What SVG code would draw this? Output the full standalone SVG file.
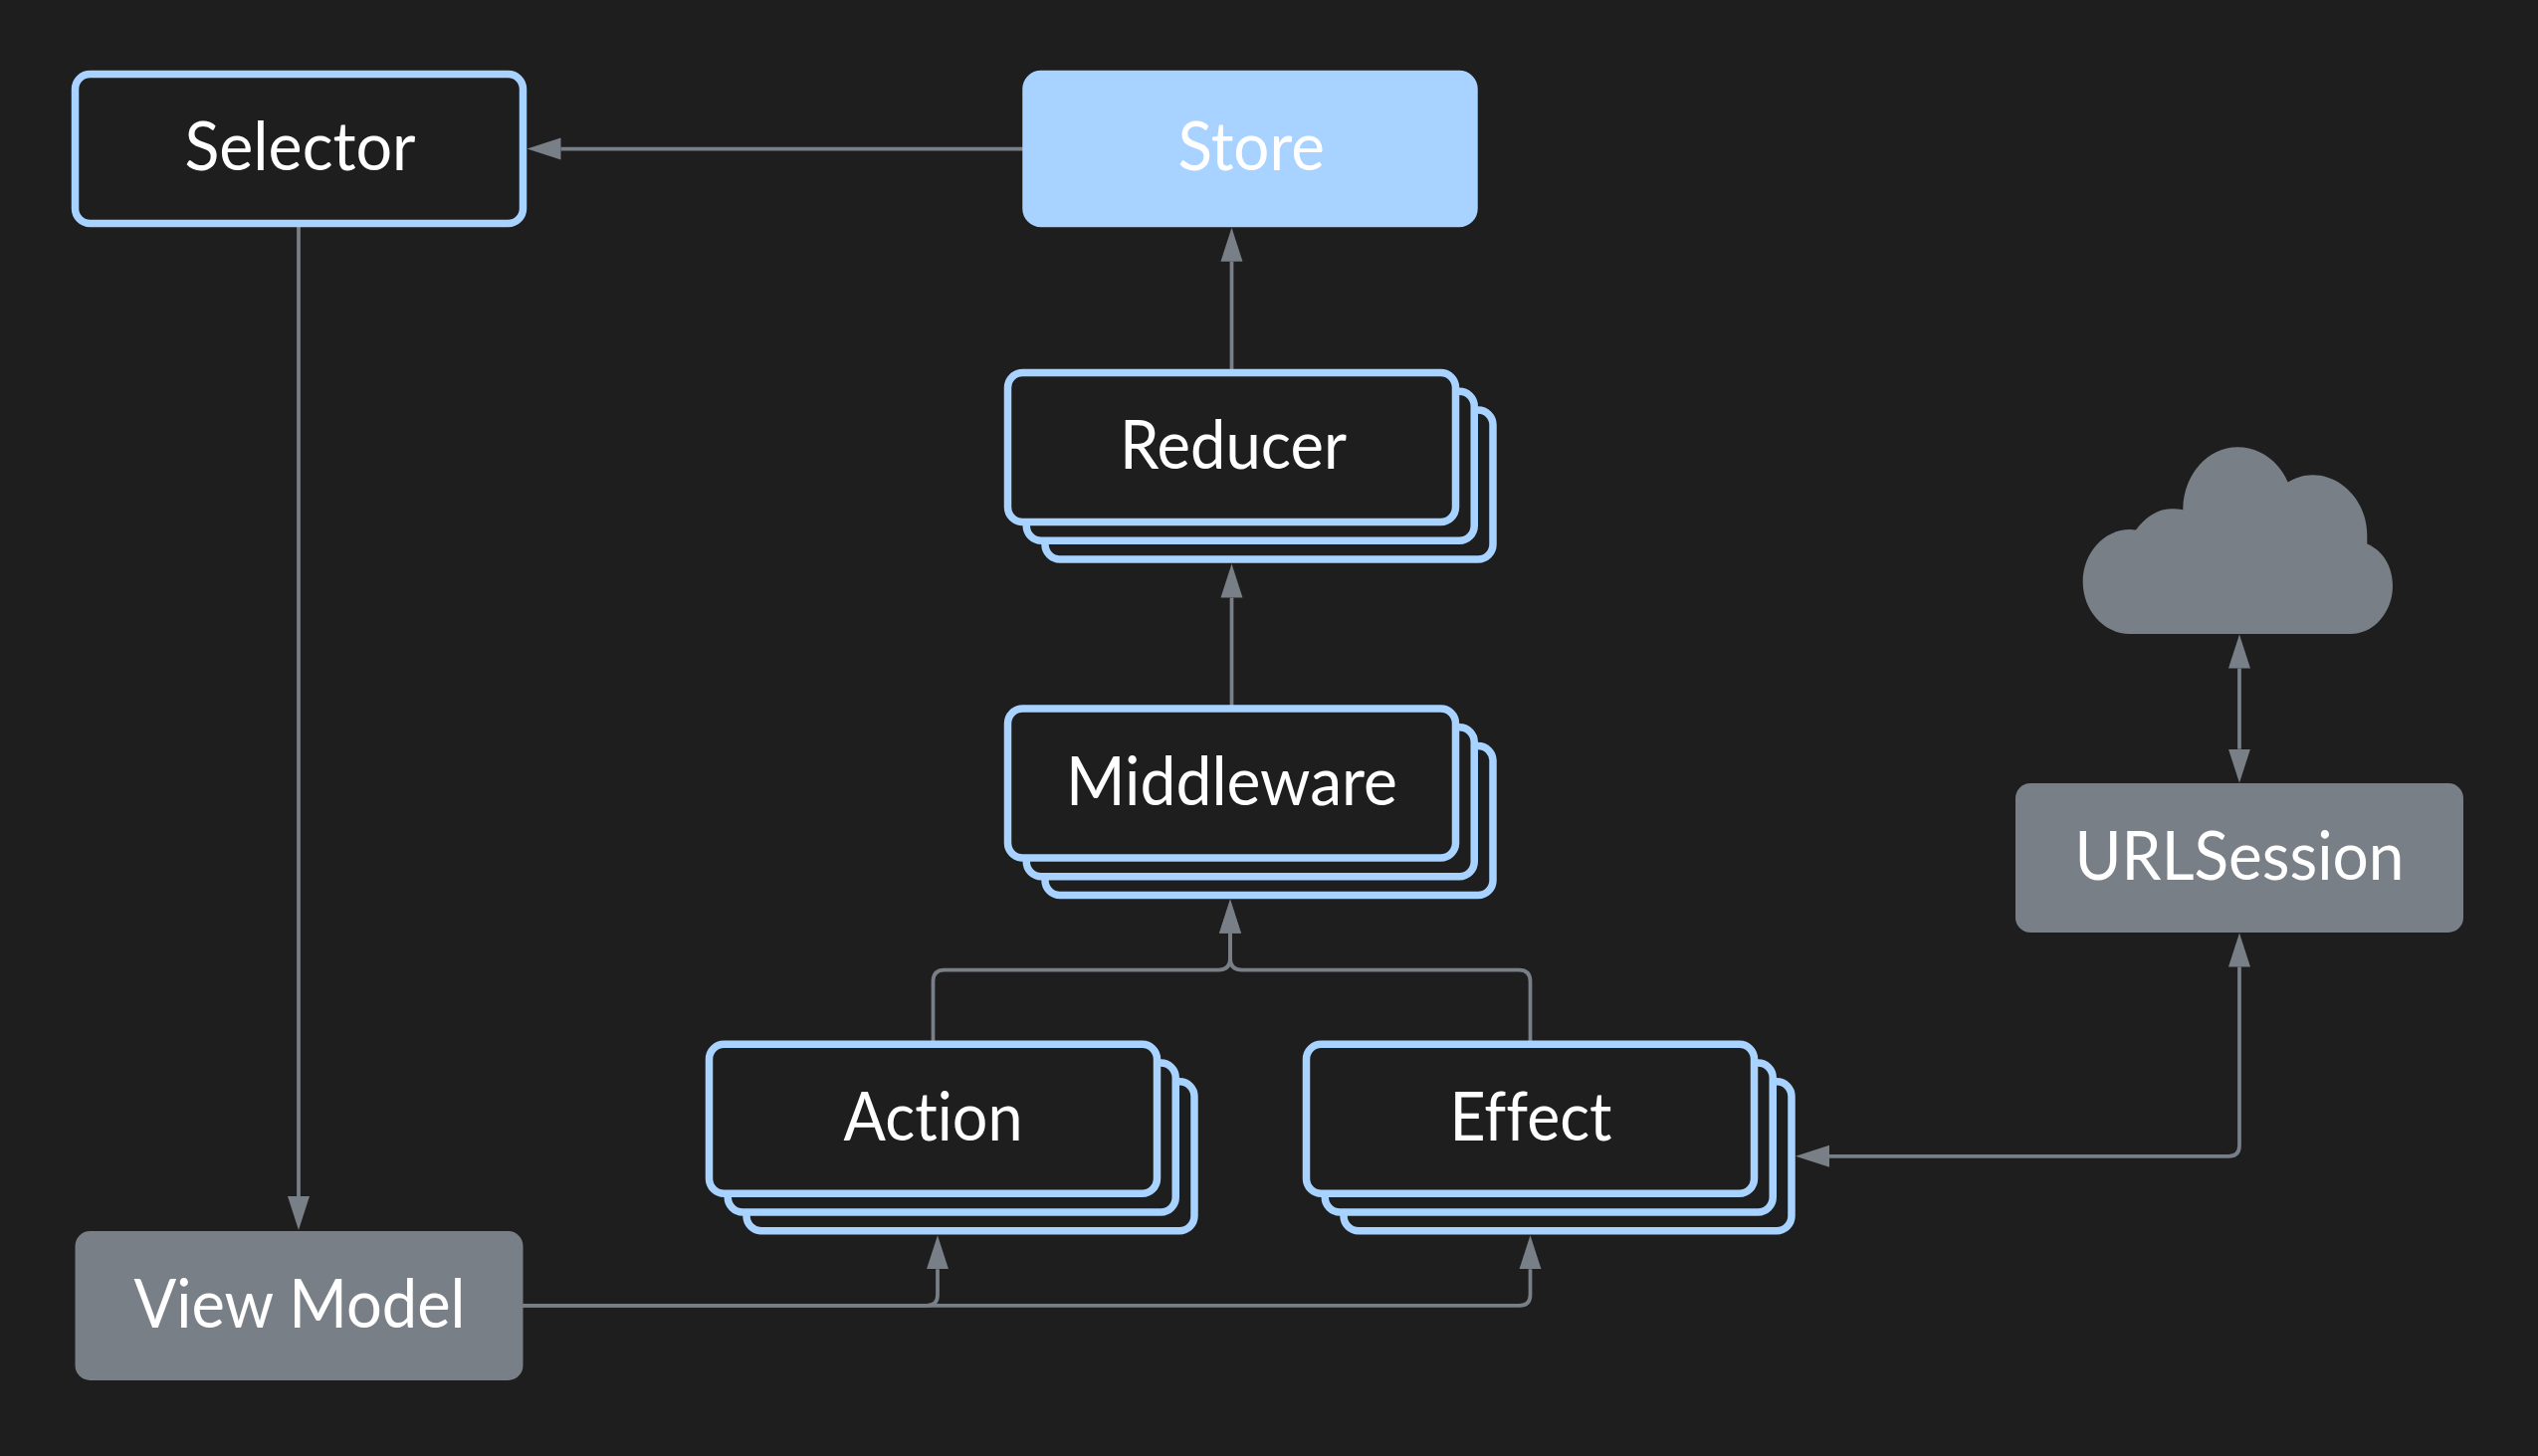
<svg xmlns="http://www.w3.org/2000/svg" width="2550" height="1463" viewBox="0 0 2550 1463">
<style>
.bg{fill:#1e1e1e}
.box{fill:#1e1e1e;stroke:#a8d2ff;stroke-width:7.5}
.store{fill:#a8d2ff;stroke:#a8d2ff;stroke-width:7.5}
.ext{fill:#787f87}
.edge{fill:none;stroke:#787f87;stroke-width:3.75}
text{font-family:"Lato","Liberation Sans",sans-serif;font-size:68px;fill:#fff;text-anchor:start;font-variant-ligatures:none}
</style>
<defs>
<marker id="arrow" markerUnits="userSpaceOnUse" markerWidth="36" markerHeight="24" refX="0" refY="12" orient="auto-start-reverse" viewBox="0 0 36 24"><path d="M0 1L34 12L0 23Z" fill="#787f87"/></marker>
<g id="stack"><rect class="box" x="37.5" y="37.5" width="450" height="150" rx="15"/><rect class="box" x="18.75" y="18.75" width="450" height="150" rx="15"/><rect class="box" x="0" y="0" width="450" height="150" rx="15"/></g>
</defs>
<rect class="bg" width="2550" height="1463"/>
<g id="connectors">
<path class="edge" marker-end="url(#arrow)" d="M1028 149.5H563.5"/>
<path class="edge" marker-end="url(#arrow)" d="M300 228V1202"/>
<path class="edge" marker-end="url(#arrow)" d="M1237.5 371V262.7"/>
<path class="edge" marker-end="url(#arrow)" d="M1237.5 709V600.6"/>
<path class="edge" marker-end="url(#arrow)" d="M937.5 1046V986Q937.5 974.5 949 974.5H1224.5Q1236 974.5 1236 963V937.8"/>
<path class="edge" marker-end="url(#arrow)" d="M1537.5 1046V986Q1537.5 974.5 1526 974.5H1247.5Q1236 974.5 1236 963V937.8"/>
<path class="edge" marker-end="url(#arrow)" d="M525 1311.8H931Q942 1311.8 942 1301V1275.2"/>
<path class="edge" marker-end="url(#arrow)" d="M525 1311.8H1526.5Q1537.5 1311.8 1537.5 1301V1275.2"/>
<path class="edge" marker-end="url(#arrow)" marker-start="url(#arrow)" d="M1838 1161.8H2239Q2250 1161.8 2250 1151V971.5"/>
<path class="edge" marker-end="url(#arrow)" marker-start="url(#arrow)" d="M2250 671.5V752.7"/>
</g>
<g id="selector"><rect class="box" x="75.5" y="74.5" width="450" height="150" rx="15"/><text x="185.5" y="171" textLength="232" lengthAdjust="spacingAndGlyphs">Selector</text></g>
<g id="store"><rect class="store" x="1031" y="74.5" width="450" height="150" rx="15"/><text x="1183.5" y="171" textLength="147.5" lengthAdjust="spacingAndGlyphs">Store</text></g>
<g id="reducer"><use href="#stack" x="1012.5" y="374.5"/><text x="1125" y="471" textLength="228" lengthAdjust="spacingAndGlyphs">Reducer</text></g>
<g id="middleware"><use href="#stack" x="1012.5" y="712"/><text x="1071" y="809" textLength="333" lengthAdjust="spacingAndGlyphs">Middleware</text></g>
<g id="action"><use href="#stack" x="712.5" y="1049.25"/><text x="847.5" y="1146" textLength="180" lengthAdjust="spacingAndGlyphs">Action</text></g>
<g id="effect"><use href="#stack" x="1312.5" y="1049.25"/><text x="1456.5" y="1146" textLength="163" lengthAdjust="spacingAndGlyphs">Effect</text></g>
<g id="cloud"><path class="ext" d="M2140 637C2114 637 2092.7 613.4 2092.7 584.5C2092.7 555.6 2114 532 2140 532L2146 532.6C2155 520 2168 511.3 2181 511.3C2186 511.3 2190 511.7 2193.3 512.3C2193.3 477.5 2217.9 449.3 2248 449.3C2271 449.3 2290 464 2298.7 484.4C2306 480 2315 477.2 2323.3 477.2C2354 477.2 2378.3 505 2378.3 538V546.4C2394 553 2404 569 2404 588.7C2404 615 2385 637 2361.7 637Z"/></g>
<g id="urlsession"><rect class="ext" x="2025" y="787" width="450" height="150" rx="15"/><text x="2084.5" y="883.5" textLength="331" lengthAdjust="spacingAndGlyphs">URLSession</text></g>
<g id="viewmodel"><rect class="ext" x="75.5" y="1237" width="450" height="150" rx="15"/><text x="134.5" y="1333.5" textLength="333" lengthAdjust="spacingAndGlyphs">View Model</text></g>
</svg>
